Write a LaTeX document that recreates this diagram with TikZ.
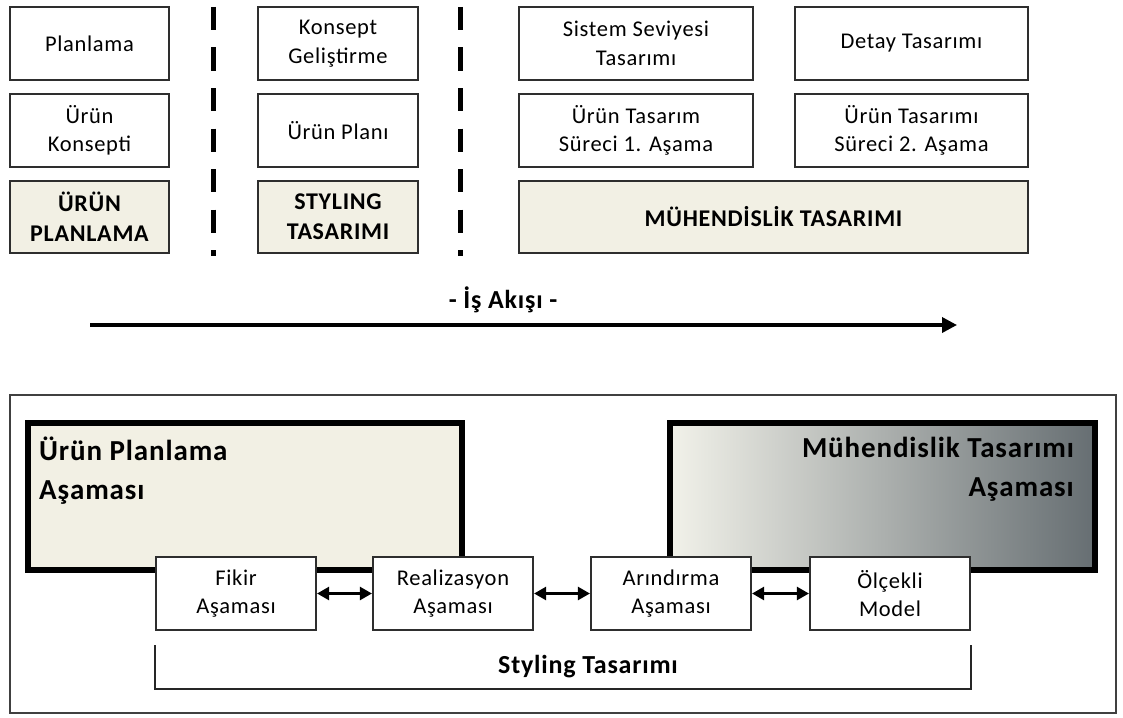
\documentclass[tikz,border=0pt]{standalone}
\usepackage{fontspec}
\setmainfont{Carlito}[LetterSpace=3]
\usetikzlibrary{arrows.meta,calc}
\definecolor{beige}{HTML}{F2F0E4}
\definecolor{edge}{HTML}{2E2E2E}
\definecolor{gradL}{HTML}{F2F2EA}
\definecolor{gradR}{HTML}{666E72}
\begin{document}
\begin{tikzpicture}[x=1pt,y=-1pt,
  box/.style={draw=edge, line width=2.2pt, fill=white, inner sep=0pt, align=center,
    text=black, font=\fontsize{22.5}{28.5}\selectfont},
  boldbox/.style={box, fill=beige, font=\fontsize{24}{30}\selectfont\bfseries},
  bigbox/.style={draw=black, line width=6pt, inner sep=0pt, minimum width=#1, minimum height=147pt},
  sepline/.style={line width=5pt, draw=black, dash pattern=on 23pt off 17.5pt},
  dbl/.style={line width=2.5pt, draw=black, {Triangle[length=12pt,width=13pt]}-{Triangle[length=12pt,width=13pt]}},
  bigtext/.style={font=\fontsize{29}{39}\selectfont\bfseries, inner sep=0pt, text=black}
]
\useasboundingbox (0,0) rectangle (1123,717);

% ---------- top section ----------
\node[box, minimum width=159pt, minimum height=73pt] (plan) at (89.5,43.5) {Planlama};
\node[box, minimum width=159pt, minimum height=73pt] (ukon) at (89.5,130.5) {Ürün\\Konsepti};
\node[boldbox, minimum width=159pt, minimum height=72pt] (upl) at (89.5,217) {ÜRÜN\\PLANLAMA};

\node[box, minimum width=160pt, minimum height=73pt] (kons) at (338,43.5) {Konsept\\Geliştirme};
\node[box, minimum width=160pt, minimum height=73pt] (uplan) at (338,130.5) {Ürün Planı};
\node[boldbox, minimum width=160pt, minimum height=72pt] (sty) at (338,217) {STYLING\\TASARIMI};

\node[box, minimum width=234pt, minimum height=73pt] (sist) at (636,43.5) {Sistem Seviyesi\\Tasarımı};
\node[box, minimum width=233pt, minimum height=73pt] (det) at (911.5,43.5) {Detay Tasarımı};
\node[box, minimum width=234pt, minimum height=73pt] (ut1) at (636,130.5) {Ürün Tasarım\\Süreci 1. Aşama};
\node[box, minimum width=233pt, minimum height=73pt] (ut2) at (911.5,130.5) {Ürün Tasarımı\\Süreci 2. Aşama};
\node[boldbox, minimum width=509pt, minimum height=72pt] (muh) at (773.5,217) {MÜHENDİSLİK TASARIMI};

\coordinate (d1t) at (213,7);
\coordinate (d1b) at (213,256);
\coordinate (d2t) at (460,7);
\coordinate (d2b) at (460,256);
\draw[sepline] (d1t) -- (d1b);
\draw[sepline] (d2t) -- (d2b);

\node[font=\fontsize{26}{30}\selectfont\bfseries, text=black] (flow) at (503,300) {- İş Akışı -};
\coordinate (flowL) at (90,325);
\coordinate (flowR) at (957,325);
\draw[line width=3.5pt, -{Triangle[length=15pt,width=15pt]}] (flowL) -- (flowR);

% ---------- bottom section ----------
\draw[draw=black!75, line width=2pt] (10,395) rectangle (1116,713);

\node[bigbox=434pt, fill=beige] (upa) at (245,496.5) {};
\node[bigbox=425pt, left color=gradL, right color=gradR] (mta) at (882.5,496.5) {};

\node[bigtext, anchor=north west, align=left] (upaT) at ($(upa.north west)+(14,17)$) {Ürün Planlama\\Aşaması};
\node[bigtext, anchor=north east, align=right] (mtaT) at ($(mta.north east)+(-24,17)$) {Mühendislik Tasarımı\\Aşaması};

\node[box, minimum width=160pt, minimum height=73pt] (fikir) at (236,593.5) {Fikir\\Aşaması};
\node[box, minimum width=160pt, minimum height=73pt] (real) at (453,593.5) {Realizasyon\\Aşaması};
\node[box, minimum width=160pt, minimum height=73pt] (arin) at (671,593.5) {Arındırma\\Aşaması};
\node[box, minimum width=160pt, minimum height=73pt] (olc) at (890,593.5) {Ölçekli\\Model};

\draw[dbl] (fikir) -- (real);
\draw[dbl] (real) -- (arin);
\draw[dbl] (arin) -- (olc);

\coordinate (brL) at ($(fikir.south west)+(0,14)$);
\coordinate (brR) at ($(olc.south east)+(0,14)$);
\draw[draw=black!85, line width=2pt] (brL) -- ++(0,44) -| (brR);
\node[font=\fontsize{26}{30}\selectfont\bfseries, text=black] (styT) at (588,667) {Styling Tasarımı};
\end{tikzpicture}
\end{document}
